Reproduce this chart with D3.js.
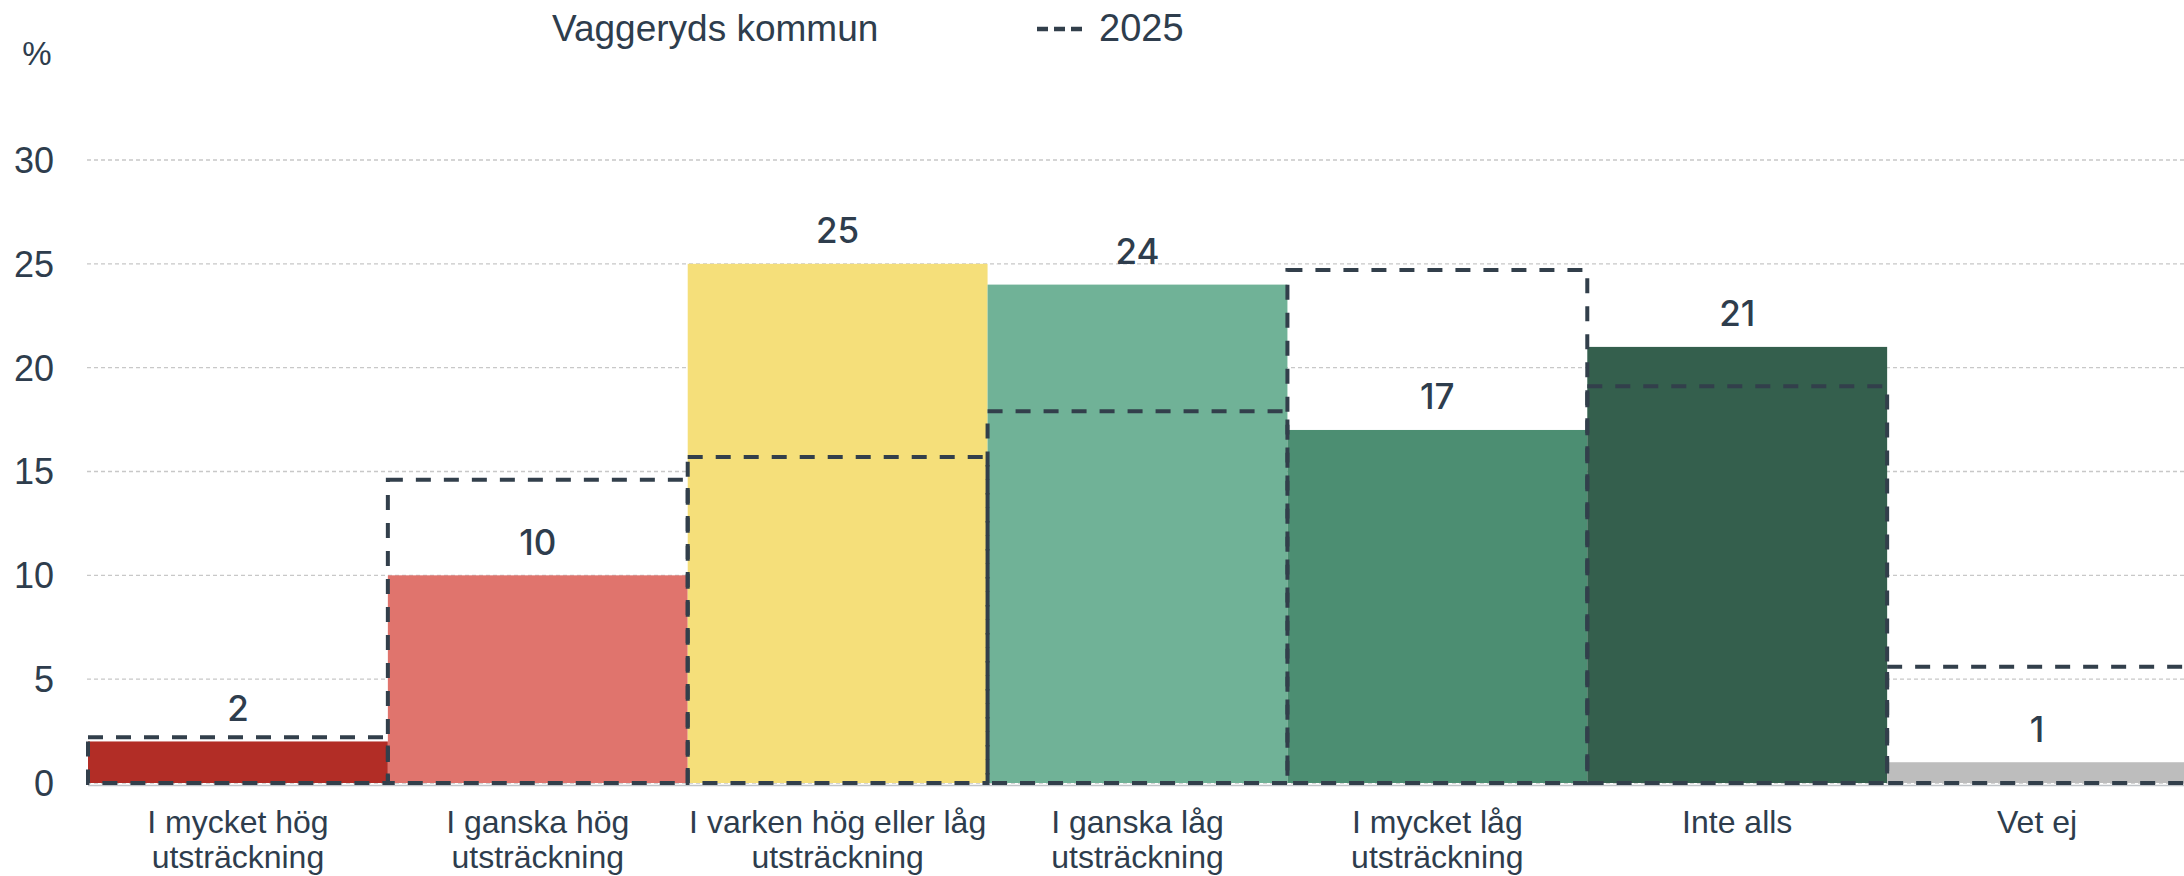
<!DOCTYPE html>
<html lang="sv">
<head>
<meta charset="utf-8">
<title>Vaggeryds kommun</title>
<style>
  body { margin: 0; background: #fff; }
  svg text { font-family: "Liberation Sans", Arial, sans-serif; fill: #2e3d4d; }
  .val { font-family: Inter, "Liberation Sans", sans-serif; font-weight: 500; }
</style>
</head>
<body>
<div id="chart"></div>
<script src="https://d3js.org/d3.v7.min.js"></script>
<script>
// categories (x axis), two lines each
const categories = [
  ["I mycket hög", "utsträckning"],
  ["I ganska hög", "utsträckning"],
  ["I varken hög eller låg", "utsträckning"],
  ["I ganska låg", "utsträckning"],
  ["I mycket låg", "utsträckning"],
  ["Inte alls"],
  ["Vet ej"]
];
// Vaggeryds kommun (bars)
const values = [2, 10, 25, 24, 17, 21, 1];
// 2025 (dashed outline)
const values2025 = [2.2, 14.6, 15.7, 17.9, 24.7, 19.1, 5.6];
const barColors = ["#b22d26", "#e0746d", "#f5df7a", "#70b297", "#4c8e72", "#345f4d", "#bdbdbd"];
const yTicks = [0, 5, 10, 15, 20, 25, 30];

const W = 2184, H = 876;
const plotLeft = 88, plotRight = 2187, plotTop = 160, plotBottom = 783;

const svg = d3.select("#chart").append("svg")
  .attr("width", W).attr("height", H);

const x = d3.scaleBand()
  .domain(d3.range(categories.length))
  .range([plotLeft, plotRight])
  .padding(0);

const y = d3.scaleLinear()
  .domain([0, 30])
  .range([plotBottom, plotTop]);

// gridlines
svg.append("g")
  .selectAll("line")
  .data(yTicks)
  .join("line")
  .attr("x1", plotLeft - 1).attr("x2", W)
  .attr("y1", d => y(d)).attr("y2", d => y(d))
  .attr("stroke", "#c8c8c8")
  .attr("stroke-width", 1.3)
  .attr("stroke-dasharray", "4,3");

// y tick labels
svg.append("g")
  .selectAll("text")
  .data(yTicks)
  .join("text")
  .attr("x", 54)
  .attr("y", d => y(d))
  .attr("dy", "0.36em")
  .attr("text-anchor", "end")
  .style("font-size", "36px")
  .text(d => d);

svg.append("text")
  .attr("x", 37).attr("y", 65)
  .attr("text-anchor", "middle")
  .style("font-size", "33px")
  .text("%");

// bars
svg.append("g")
  .selectAll("rect")
  .data(values)
  .join("rect")
  .attr("x", (d, i) => x(i))
  .attr("y", d => y(d))
  .attr("width", x.bandwidth())
  .attr("height", d => y(0) - y(d))
  .attr("fill", (d, i) => barColors[i]);

// baseline
svg.append("line")
  .attr("x1", plotLeft).attr("x2", W)
  .attr("y1", y(0) + 2.5).attr("y2", y(0) + 2.5)
  .attr("stroke", "#c0c4c8").attr("stroke-width", 1.5);

// 2025 dashed outline
svg.append("g")
  .selectAll("rect")
  .data(values2025)
  .join("rect")
  .attr("x", (d, i) => x(i))
  .attr("y", d => y(d))
  .attr("width", x.bandwidth())
  .attr("height", d => y(0) - y(d))
  .attr("fill", "none")
  .attr("stroke", "#323f4b")
  .attr("stroke-width", 4)
  .attr("stroke-dasharray", "15,13");

// value labels
svg.append("g")
  .selectAll("text")
  .data(values)
  .join("text")
  .attr("class", "val")
  .attr("x", (d, i) => x(i) + x.bandwidth() / 2)
  .attr("y", d => y(d) - 20.5)
  .attr("text-anchor", "middle")
  .style("font-size", "35px")
  .text(d => d);

// category labels
const cat = svg.append("g")
  .selectAll("text")
  .data(categories)
  .join("text")
  .attr("x", (d, i) => x(i) + x.bandwidth() / 2)
  .attr("y", 833)
  .attr("text-anchor", "middle")
  .style("font-size", "32px");

cat.selectAll("tspan")
  .data(d => d)
  .join("tspan")
  .attr("x", function () { return d3.select(this.parentNode).attr("x"); })
  .attr("dy", (d, i) => i === 0 ? 0 : 35)
  .text(d => d);

// legend
svg.append("text")
  .attr("x", 552).attr("y", 41)
  .style("font-size", "37px")
  .text("Vaggeryds kommun");

svg.append("line")
  .attr("x1", 1037).attr("x2", 1083)
  .attr("y1", 29).attr("y2", 29)
  .attr("stroke", "#323f4b")
  .attr("stroke-width", 4.5)
  .attr("stroke-dasharray", "11,6");

svg.append("text")
  .attr("x", 1099).attr("y", 41)
  .style("font-size", "38px")
  .text("2025");
</script>
</body>
</html>
